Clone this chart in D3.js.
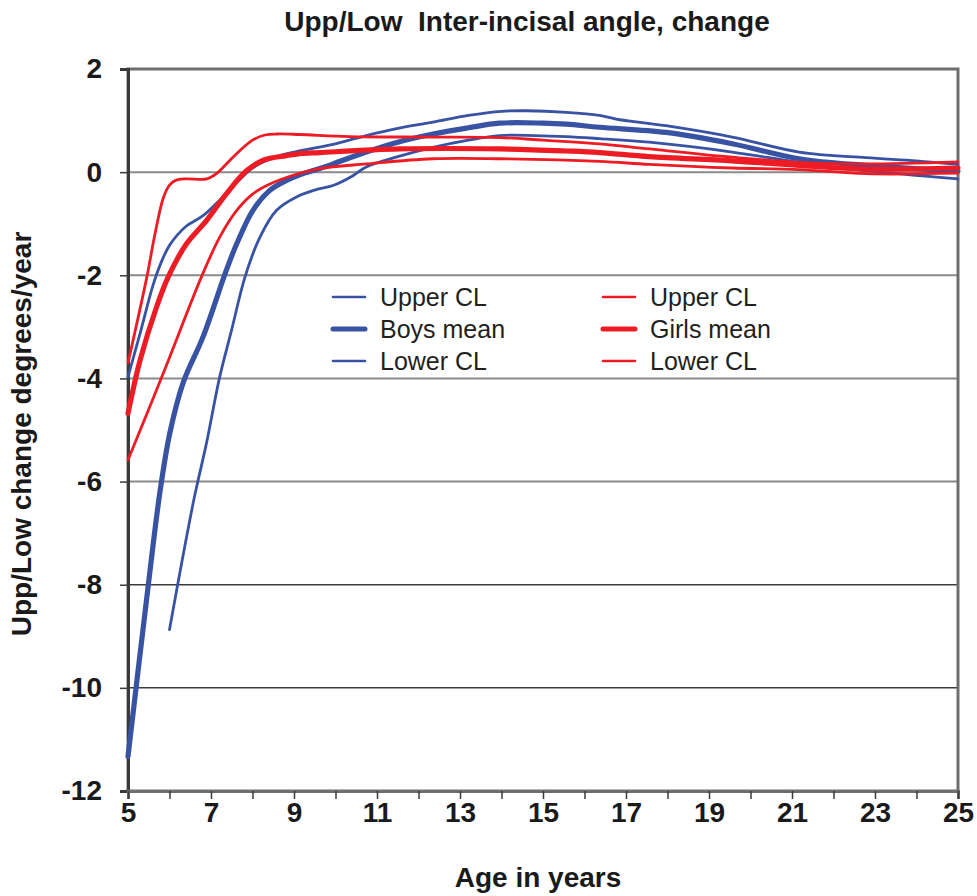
<!DOCTYPE html>
<html>
<head>
<meta charset="utf-8">
<script src="https://cdn.jsdelivr.net/npm/d3@7"></script>
<style>
  html, body { margin: 0; padding: 0; background: #fff; }
  svg { display: block; font-family: "Liberation Sans", Arial, sans-serif; }
  .keep-spaces { white-space: pre; }
</style>
</head>
<body>
<svg id="chart" width="977" height="896"></svg>
<script>
// Yearly change of the upper/lower inter-incisal angle, [age, degrees/year]
const boysUpperCL = [
  [5.0, -3.97], [5.3, -3.1], [5.6, -2.2], [5.8, -1.75], [6.0, -1.42], [6.4, -1.05],
  [6.8, -0.85], [7.2, -0.55], [7.6, -0.22], [8.0, 0.08], [8.5, 0.28], [9.0, 0.39],
  [10.0, 0.55], [10.74, 0.71], [11.5, 0.85], [12.35, 0.97], [13.2, 1.1], [14.0, 1.18],
  [14.6, 1.19], [15.56, 1.16], [16.36, 1.1], [16.76, 1.03], [17.96, 0.9], [19.56, 0.68],
  [21.17, 0.39], [22.78, 0.28], [24.0, 0.22], [25.0, 0.15]
];
const boysMean = [
  [5.0, -11.33], [5.49, -8.0], [5.77, -6.2], [6.01, -5.05], [6.33, -4.08], [6.81, -3.19],
  [7.37, -1.9], [7.62, -1.39], [8.01, -0.74], [8.42, -0.35], [8.82, -0.16], [9.14, -0.05],
  [9.62, 0.07], [9.94, 0.16], [10.74, 0.39], [11.5, 0.58], [12.35, 0.74], [13.2, 0.86],
  [13.95, 0.95], [15.0, 0.95], [15.56, 0.93], [16.36, 0.87], [17.96, 0.77], [19.56, 0.55],
  [21.17, 0.26], [22.78, 0.13], [25.0, 0.02]
];
const boysLowerCL = [
  [6.0, -8.87], [6.3, -7.55], [6.6, -6.3], [6.89, -5.26], [7.21, -3.97], [7.5, -3.05],
  [7.82, -2.03], [8.18, -1.26], [8.58, -0.74], [9.06, -0.48], [9.62, -0.32], [9.94, -0.26],
  [10.4, -0.08], [10.74, 0.1], [11.5, 0.3], [12.35, 0.48], [13.2, 0.62], [13.95, 0.71],
  [14.8, 0.71], [15.56, 0.69], [16.36, 0.65], [17.56, 0.58], [19.56, 0.39], [21.17, 0.19],
  [22.78, 0.03], [25.0, -0.13]
];
const girlsUpperCL = [
  [5.0, -3.7], [5.45, -2.05], [5.65, -1.2], [5.85, -0.5], [6.0, -0.25], [6.15, -0.16],
  [6.4, -0.13], [6.9, -0.13], [7.13, -0.03], [7.53, 0.29], [8.0, 0.62], [8.3, 0.72],
  [8.6, 0.74], [9.14, 0.73], [10.34, 0.69], [12.35, 0.68], [13.95, 0.67], [15.0, 0.62],
  [16.36, 0.55], [17.56, 0.45], [19.56, 0.29], [21.17, 0.19], [22.78, 0.16], [25.0, 0.2]
];
const girlsMean = [
  [5.0, -4.68], [5.29, -3.65], [5.69, -2.61], [5.97, -2.03], [6.41, -1.39], [6.89, -0.94],
  [7.37, -0.42], [7.86, 0.03], [8.26, 0.23], [8.82, 0.32], [9.14, 0.36], [9.62, 0.38],
  [11.55, 0.45], [13.95, 0.45], [15.56, 0.41], [16.36, 0.38], [17.56, 0.3], [19.56, 0.22],
  [21.17, 0.13], [22.78, 0.06], [25.0, 0.08]
];
const girlsLowerCL = [
  [5.0, -5.58], [5.85, -3.9], [6.77, -2.03], [7.21, -1.26], [7.62, -0.74], [8.01, -0.42],
  [8.42, -0.23], [8.98, -0.06], [9.62, 0.07], [10.74, 0.16], [12.35, 0.26], [13.95, 0.26],
  [16.36, 0.21], [17.56, 0.15], [19.56, 0.08], [21.17, 0.05], [22.78, -0.03], [25.0, -0.02]
];

const xTicks = [5, 7, 9, 11, 13, 15, 17, 19, 21, 23, 25];
const xMinorTicks = d3.range(5, 26, 1);
const yTicks = [2, 0, -2, -4, -6, -8, -10, -12];

const titleText = "Upp/Low  Inter-incisal angle, change";
const xAxisTitle = "Age in years";
const yAxisTitle = "Upp/Low change degrees/year";

const legendItems = [
  { label: "Upper CL", series: "boys", thick: false, col: 0, row: 0 },
  { label: "Boys mean", series: "boys", thick: true, col: 0, row: 1 },
  { label: "Lower CL", series: "boys", thick: false, col: 0, row: 2 },
  { label: "Upper CL", series: "girls", thick: false, col: 1, row: 0 },
  { label: "Girls mean", series: "girls", thick: true, col: 1, row: 1 },
  { label: "Lower CL", series: "girls", thick: false, col: 1, row: 2 }
];

const colors = { boys: "#3953a4", girls: "#ed1c24" };

const svg = d3.select("#chart");
const plot = { left: 128, right: 958, top: 69, bottom: 791 };

const x = d3.scaleLinear().domain([5, 25]).range([plot.left, plot.right]);
const y = d3.scaleLinear().domain([-12, 2]).range([plot.bottom, plot.top]);

// horizontal gridlines
svg.append("g")
  .selectAll("line")
  .data(yTicks.filter(v => v > -12 && v < 2))
  .join("line")
  .attr("x1", plot.left).attr("x2", plot.right)
  .attr("y1", d => y(d)).attr("y2", d => y(d))
  .attr("stroke", d => d <= -8 ? "#3c3c3c" : "#8a8a8a")
  .attr("stroke-width", d => d <= -8 ? 1.5 : 2);

// frame
svg.append("rect")
  .attr("x", plot.left).attr("y", plot.top)
  .attr("width", plot.right - plot.left).attr("height", plot.bottom - plot.top)
  .attr("fill", "none").attr("stroke", "#6e6e6e").attr("stroke-width", 3);

// y axis
const yAxis = d3.axisLeft(y).tickValues(yTicks).tickSize(8).tickPadding(18)
  .tickFormat(d3.format("d"));
const gy = svg.append("g").attr("transform", `translate(${plot.left},0)`).call(yAxis);
gy.select(".domain").attr("stroke", "#3a3a3a").attr("stroke-width", 3);
gy.selectAll(".tick line").attr("stroke", "#3a3a3a").attr("stroke-width", 1.5);
gy.selectAll(".tick text")
  .attr("font-family", "'Liberation Sans', Arial, sans-serif")
  .attr("font-size", 28).attr("font-weight", "bold").attr("fill", "#1a1a1a")
  .text(d => d < 0 ? "-" + Math.abs(d) : d);

// x axis: a tick every year, labels every second year
const xAxis = d3.axisBottom(x).tickValues(xMinorTicks).tickSize(8).tickPadding(3)
  .tickFormat(d => xTicks.includes(d) ? d : "");
const gx = svg.append("g").attr("transform", `translate(0,${plot.bottom})`).call(xAxis);
gx.select(".domain").attr("stroke", "#6e6e6e").attr("stroke-width", 3);
gx.selectAll(".tick line").attr("stroke", "#3a3a3a").attr("stroke-width", 1.5);
gx.selectAll(".tick text")
  .attr("font-family", "'Liberation Sans', Arial, sans-serif")
  .attr("font-size", 28).attr("font-weight", "bold").attr("fill", "#1a1a1a");

// series lines
const line = d3.line()
  .x(d => x(d[0])).y(d => y(d[1]))
  .curve(d3.curveCatmullRom.alpha(0.5));

const series = [
  { data: boysUpperCL, color: colors.boys, width: 2.8 },
  { data: boysLowerCL, color: colors.boys, width: 2.8 },
  { data: boysMean, color: colors.boys, width: 5.2 },
  { data: girlsUpperCL, color: colors.girls, width: 2.8 },
  { data: girlsLowerCL, color: colors.girls, width: 2.8 },
  { data: girlsMean, color: colors.girls, width: 5.2 }
];

svg.append("g")
  .selectAll("path")
  .data(series)
  .join("path")
  .attr("d", d => line(d.data))
  .attr("fill", "none")
  .attr("stroke", d => d.color)
  .attr("stroke-width", d => d.width)
  .attr("stroke-linecap", "round")
  .attr("stroke-linejoin", "round");

// legend
const legend = svg.append("g").attr("transform", "translate(333,297)");
const li = legend.selectAll("g").data(legendItems).join("g")
  .attr("transform", d => `translate(${d.col * 270},${d.row * 32})`);
li.append("line")
  .attr("x1", 0).attr("x2", 32).attr("y1", 0).attr("y2", 0)
  .attr("stroke", d => colors[d.series])
  .attr("stroke-width", d => d.thick ? 5 : 2.6)
  .attr("stroke-linecap", "round");
li.append("text")
  .attr("x", 47).attr("y", 0).attr("dy", "0.34em")
  .attr("font-size", 25).attr("fill", "#231f20")
  .text(d => d.label);

// titles
svg.append("text")
  .attr("class", "keep-spaces")
  .attr("x", 527).attr("y", 31)
  .attr("text-anchor", "middle")
  .attr("font-size", 28).attr("font-weight", "bold").attr("fill", "#1a1a1a")
  .text(titleText);

svg.append("text")
  .attr("x", 538).attr("y", 887)
  .attr("text-anchor", "middle")
  .attr("font-size", 28).attr("font-weight", "bold").attr("fill", "#1a1a1a")
  .text(xAxisTitle);

svg.append("text")
  .attr("transform", "translate(31,434) rotate(-90)")
  .attr("text-anchor", "middle")
  .attr("font-size", 28).attr("font-weight", "bold").attr("fill", "#1a1a1a")
  .text(yAxisTitle);
</script>
</body>
</html>
